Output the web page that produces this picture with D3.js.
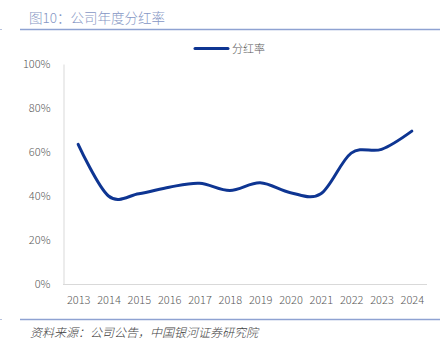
<!DOCTYPE html>
<html><head><meta charset="utf-8">
<script src="https://cdn.jsdelivr.net/npm/d3@7"></script>
<style>
html,body{margin:0;padding:0;background:#fff;}
svg{display:block;}
</style></head>
<body><svg id="c" width="443" height="345"></svg>
<script>
const years = ["2013","2014","2015","2016","2017","2018","2019","2020","2021","2022","2023","2024"];
const payoutRatio = [63.5, 40, 41, 44, 45.8, 42.5, 46, 41.5, 41, 59.5, 61.2, 69.5];
const yTicks = [0, 20, 40, 60, 80, 100];
const seriesName = "分红率";
const titleText = "图10：公司年度分红率";
const sourceText = "资料来源：公司公告，中国银河证券研究院";

const svg = d3.select("#c");
const font = "'Noto Sans CJK SC', 'Liberation Sans', sans-serif";

// title & rules
svg.append("text").attr("x", 29).attr("y", 23).attr("font-family", font)
  .attr("font-size", 13.5).attr("font-weight", 300).attr("fill", "#8596c4").text(titleText);
svg.append("line").attr("x1", 20).attr("x2", 440).attr("y1", 29.5).attr("y2", 29.5)
  .attr("stroke", "#8ea2d2").attr("stroke-width", 1.3);
svg.append("line").attr("x1", 0).attr("x2", 2).attr("y1", 29.5).attr("y2", 29.5)
  .attr("stroke", "#b8c3de").attr("stroke-width", 1);
svg.append("line").attr("x1", 20).attr("x2", 440).attr("y1", 319.5).attr("y2", 319.5)
  .attr("stroke", "#8ea2d2").attr("stroke-width", 1.3);
svg.append("line").attr("x1", 0).attr("x2", 2).attr("y1", 319.5).attr("y2", 319.5)
  .attr("stroke", "#b8c3de").attr("stroke-width", 1);
svg.append("text").attr("x", 30).attr("y", 336.5).attr("font-family", font)
  .attr("font-size", 12).attr("font-weight", 300).attr("font-style", "italic").attr("fill", "#404040").text(sourceText);

// scales
const x = d3.scalePoint().domain(years).range([63, 427]).padding(0.5);
const y = d3.scaleLinear().domain([0, 100]).range([284, 64]);

// y axis
const yAxis = svg.append("g").attr("transform", "translate(63.5,0)")
  .call(d3.axisLeft(y).tickValues(yTicks).tickFormat(d => d + "%").tickSize(0).tickPadding(13));
yAxis.select(".domain").attr("stroke", "#d9d9d9").attr("stroke-width", 1);
yAxis.selectAll("text").attr("font-family", font).attr("font-size", 11).attr("font-weight", 300).attr("fill", "#595959");

// x axis
const xAxis = svg.append("g").attr("transform", "translate(0,284.5)")
  .call(d3.axisBottom(x).tickSize(0).tickPadding(12));
xAxis.select(".domain").attr("d", "M63,0H427").attr("stroke", "#d9d9d9").attr("stroke-width", 1);
xAxis.selectAll("text").attr("font-family", font).attr("font-size", 11).attr("font-weight", 300).attr("fill", "#595959");

// line
const line = d3.line().x((d, i) => x(years[i])).y(d => y(d)).curve(d3.curveCatmullRom.alpha(0));
svg.append("path").datum(payoutRatio).attr("d", line).attr("fill", "none")
  .attr("stroke", "#0e3592").attr("stroke-width", 3).attr("stroke-linecap", "round");

// legend
svg.append("line").attr("x1", 195).attr("x2", 228).attr("y1", 48.5).attr("y2", 48.5)
  .attr("stroke", "#0e3592").attr("stroke-width", 3).attr("stroke-linecap", "round");
svg.append("text").attr("x", 232).attr("y", 52.5).attr("font-family", font)
  .attr("font-size", 11).attr("font-weight", 300).attr("fill", "#595959").text(seriesName);
</script></body></html>
